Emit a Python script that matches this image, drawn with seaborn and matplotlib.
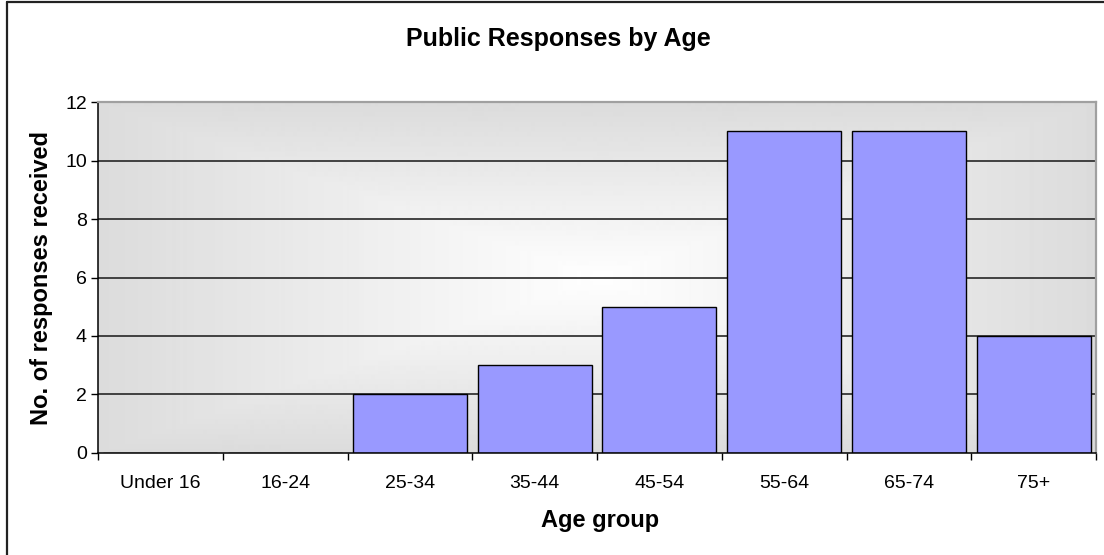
import numpy as np
import pandas as pd
import matplotlib
matplotlib.use("Agg")
import matplotlib.pyplot as plt
from matplotlib.lines import Line2D
import seaborn as sns

age_groups = ["Under 16", "16-24", "25-34", "35-44", "45-54", "55-64", "65-74", "75+"]
responses = [0, 0, 2, 3, 5, 11, 11, 4]
y_ticks = [0, 2, 4, 6, 8, 10, 12]

sns.set_theme(style="white")
plt.rcParams["font.family"] = ["Liberation Sans", "DejaVu Sans"]

df = pd.DataFrame({"Age group": age_groups, "Responses": responses})

fig = plt.figure(figsize=(11.04, 5.55), dpi=100)
fig.patch.set_facecolor("white")
ax = fig.add_axes([0.0888, 0.1838, 0.904, 0.6324])

# rectangular "from centre" gradient for the plot area: white centre, grey edges
ny, nx = 351, 998
yy, xx = np.mgrid[-1:1:ny * 1j, -1:1:nx * 1j]
d = np.maximum(np.abs(xx), np.abs(yy))
shade = 1.0 - 0.138 * np.clip(d, 0, 1)
shade = np.round(shade * 255) / 255
ax.imshow(np.dstack([shade, shade, shade]), extent=(-0.5, 7.5, 0, 12),
          aspect="auto", zorder=0, interpolation="bilinear", origin="lower")

for t in y_ticks[1:-1]:
    ax.axhline(t, color="#262626", lw=1.2, zorder=1)

sns.barplot(data=df, x="Age group", y="Responses", color="#9999FF",
            edgecolor="black", linewidth=1.0, width=0.915, saturation=1,
            ax=ax, zorder=2)

ax.set_xlim(-0.5, 7.5)
ax.set_ylim(0, 12)
ax.set_yticks(y_ticks)
ax.set_yticklabels([str(t) for t in y_ticks], fontsize=14, color="black")
ax.set_xticks(range(len(age_groups)))
ax.set_xticklabels(age_groups, fontsize=14, color="black")
ax.set_xticks(np.arange(-0.5, 8.0, 1.0), minor=True)
ax.tick_params(axis="x", which="major", length=0, pad=16)
ax.tick_params(axis="x", which="minor", length=5, width=1, color="black", direction="out", bottom=True)
ax.tick_params(axis="y", length=5, width=1, color="black", direction="out", left=True, pad=3)

for side in ("left", "bottom"):
    ax.spines[side].set_color("black")
    ax.spines[side].set_linewidth(1.1)
for side in ("top", "right"):
    ax.spines[side].set_color("#a0a0a0")
    ax.spines[side].set_linewidth(1.6)

ax.set_xlabel("")
ax.set_ylabel("")
fig.text(0.5435, 0.063, "Age group", ha="center", va="center",
         fontsize=17, fontweight="bold", color="black")
fig.text(0.038, 0.499, "No. of responses received", ha="center", va="center",
         rotation=90, fontsize=17, fontweight="bold", color="black")
fig.text(0.5054, 0.930, "Public Responses by Age", ha="center", va="center",
         fontsize=18, fontweight="bold", color="black")

# chart frame (left and top edges)
fig.add_artist(Line2D([0.0063, 0.0063], [0.0, 0.9955], transform=fig.transFigure, color="#222222", lw=1.6))
fig.add_artist(Line2D([0.0063, 1.0], [0.9955, 0.9955], transform=fig.transFigure, color="#222222", lw=1.6))

fig.savefig("out.png", dpi=100, facecolor="white")
